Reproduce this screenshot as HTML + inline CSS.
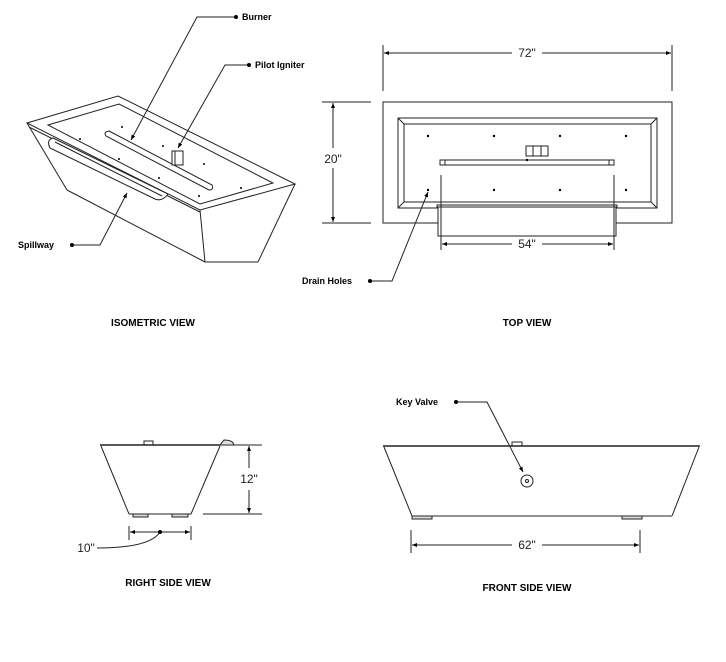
<!DOCTYPE html>
<html><head><meta charset="utf-8"><style>
html,body{margin:0;padding:0;background:#fff;}
svg{display:block;}
.b{font-family:"Liberation Sans",sans-serif;font-weight:bold;font-size:9px;fill:#000;}
.t{font-family:"Liberation Sans",sans-serif;font-weight:bold;font-size:10px;fill:#000;}
.d{font-family:"Liberation Sans",sans-serif;font-size:12px;fill:#222;}
</style></head><body>
<svg width="726" height="662" viewBox="0 0 726 662" xmlns="http://www.w3.org/2000/svg">
<defs>
<marker id="a" viewBox="0 0 10 10" refX="10" refY="5" markerWidth="7" markerHeight="5" orient="auto-start-reverse"><path d="M0,1 L10,5 L0,9z" fill="#000"/></marker>
</defs>
<g fill="none" stroke="#222" stroke-width="1">
<!-- Isometric -->
<polygon points="27,123 118,96 295,184 200,210" fill="#fff"/>
<polygon points="48,125 119,104 273,183 200,204"/>
<line x1="29" y1="127" x2="200" y2="212"/>
<line x1="27" y1="123" x2="67" y2="190"/>
<line x1="67" y1="190" x2="205" y2="262"/>
<line x1="200" y1="210" x2="205" y2="262"/>
<line x1="205" y1="262" x2="258" y2="262"/>
<line x1="295" y1="184" x2="258" y2="262"/>
<path d="M53,138 L168,194 Q162,202 155,199 L50,148 Q46,140 53,138z" fill="#fff"/>
<line x1="55" y1="142" x2="162" y2="196"/>
<path d="M109,131 L212,185 Q214,190 209,190 L106,136 Q103,132 109,131z"/>
<rect x="172" y="151" width="11" height="14" fill="#fff"/>
<line x1="175" y1="151" x2="175" y2="165"/>
<g fill="#000" stroke="none">
<circle cx="122" cy="127" r="1"/><circle cx="80" cy="139" r="1"/><circle cx="163" cy="146" r="1"/>
<circle cx="119" cy="159" r="1"/><circle cx="204" cy="164" r="1"/><circle cx="159" cy="178" r="1"/>
<circle cx="241" cy="188" r="1"/><circle cx="199" cy="196" r="1"/>
</g>
<polyline points="236,17 197,17 131,140" marker-end="url(#a)"/>
<polyline points="249,65 225,65 178,148" marker-end="url(#a)"/>
<polyline points="72,245 100,245 127,193" marker-end="url(#a)"/>
<!-- Top view -->
<rect x="383" y="102" width="289" height="121"/>
<rect x="398" y="118" width="259" height="90"/>
<rect x="404" y="124" width="247" height="78"/>
<line x1="398" y1="118" x2="404" y2="124"/><line x1="657" y1="118" x2="651" y2="124"/>
<line x1="398" y1="208" x2="404" y2="202"/><line x1="657" y1="208" x2="651" y2="202"/>
<rect x="440" y="160" width="174" height="5"/>
<rect x="440" y="160" width="5" height="5"/><rect x="609" y="160" width="5" height="5"/>
<rect x="526" y="146" width="22" height="10"/>
<line x1="533" y1="146" x2="533" y2="156"/><line x1="541" y1="146" x2="541" y2="156"/>
<rect x="437" y="205" width="180" height="2"/>
<rect x="438" y="207" width="178" height="29" fill="#fff"/>
<line x1="441" y1="175" x2="441" y2="250"/><line x1="614" y1="175" x2="614" y2="250"/>
<g fill="#000" stroke="none">
<circle cx="428" cy="136" r="1.2"/><circle cx="494" cy="136" r="1.2"/><circle cx="560" cy="136" r="1.2"/><circle cx="626" cy="136" r="1.2"/>
<circle cx="428" cy="190" r="1.2"/><circle cx="494" cy="190" r="1.2"/><circle cx="560" cy="190" r="1.2"/><circle cx="626" cy="190" r="1.2"/>
<circle cx="527" cy="160" r="1.2"/>
</g>
<line x1="383" y1="45" x2="383" y2="91"/><line x1="672" y1="45" x2="672" y2="91"/>
<line x1="384" y1="53" x2="512" y2="53" marker-start="url(#a)"/><line x1="542" y1="53" x2="671" y2="53" marker-end="url(#a)"/>
<line x1="322" y1="102" x2="371" y2="102"/><line x1="322" y1="223" x2="371" y2="223"/>
<line x1="333" y1="103" x2="333" y2="148" marker-start="url(#a)"/><line x1="333" y1="168" x2="333" y2="222" marker-end="url(#a)"/>
<line x1="442" y1="244" x2="512" y2="244" marker-start="url(#a)"/><line x1="542" y1="244" x2="613" y2="244" marker-end="url(#a)"/>
<polyline points="370,281 392,281 428,192" marker-end="url(#a)"/>
<!-- Right side -->
<line x1="100" y1="445" x2="220" y2="445" stroke-width="1.5"/>
<path d="M220,445 L234,445 Q233,440 224,440 Z" fill="#ddd"/>
<rect x="144" y="441" width="9" height="4"/>
<line x1="101" y1="446" x2="129" y2="514"/><line x1="220" y1="446" x2="191" y2="514"/>
<line x1="129" y1="514" x2="191" y2="514"/>
<rect x="133" y="514" width="15" height="3" fill="#ddd"/><rect x="172" y="514" width="16" height="3" fill="#ddd"/>
<line x1="234" y1="445" x2="262" y2="445"/><line x1="203" y1="514" x2="262" y2="514"/>
<line x1="249" y1="446" x2="249" y2="468" marker-start="url(#a)"/><line x1="249" y1="490" x2="249" y2="513" marker-end="url(#a)"/>
<line x1="129" y1="526" x2="129" y2="540"/><line x1="191" y1="526" x2="191" y2="540"/>
<line x1="130" y1="532" x2="190" y2="532" marker-start="url(#a)" marker-end="url(#a)"/>
<path d="M97,548 Q150,548 160,532"/>
<!-- Front -->
<line x1="383" y1="446" x2="700" y2="446" stroke-width="1.5"/>
<rect x="512" y="442" width="10" height="4"/>
<line x1="384" y1="447" x2="412" y2="516"/><line x1="699" y1="447" x2="672" y2="516"/>
<line x1="412" y1="516" x2="672" y2="516"/>
<rect x="412" y="516" width="20" height="3" fill="#ddd"/><rect x="622" y="516" width="20" height="3" fill="#ddd"/>
<circle cx="527" cy="481" r="6"/><circle cx="527" cy="481" r="1.5"/>
<polyline points="456,402 487,402 523,472" marker-end="url(#a)"/>
<line x1="411" y1="530" x2="411" y2="553"/><line x1="640" y1="530" x2="640" y2="553"/>
<line x1="412" y1="545" x2="512" y2="545" marker-start="url(#a)"/><line x1="542" y1="545" x2="639" y2="545" marker-end="url(#a)"/>
</g>
<g fill="#000">
<circle cx="236" cy="17" r="2"/><circle cx="249" cy="65" r="2"/><circle cx="72" cy="245" r="2"/>
<circle cx="370" cy="281" r="2"/><circle cx="456" cy="402" r="2"/><circle cx="160" cy="532" r="2"/>
</g>
<text class="b" x="242" y="20">Burner</text>
<text class="b" x="255" y="68">Pilot Igniter</text>
<text class="b" x="18" y="248">Spillway</text>
<text class="b" x="302" y="284">Drain Holes</text>
<text class="b" x="396" y="405">Key Valve</text>
<text class="t" x="153" y="326" text-anchor="middle">ISOMETRIC VIEW</text>
<text class="t" x="527" y="326" text-anchor="middle">TOP VIEW</text>
<text class="t" x="168" y="586" text-anchor="middle">RIGHT SIDE VIEW</text>
<text class="t" x="527" y="591" text-anchor="middle">FRONT SIDE VIEW</text>
<text class="d" x="527" y="57" text-anchor="middle">72"</text>
<text class="d" x="333" y="163" text-anchor="middle">20"</text>
<text class="d" x="527" y="248" text-anchor="middle">54"</text>
<text class="d" x="249" y="483" text-anchor="middle">12"</text>
<text class="d" x="86" y="552" text-anchor="middle">10"</text>
<text class="d" x="527" y="549" text-anchor="middle">62"</text>
</svg>
</body></html>
